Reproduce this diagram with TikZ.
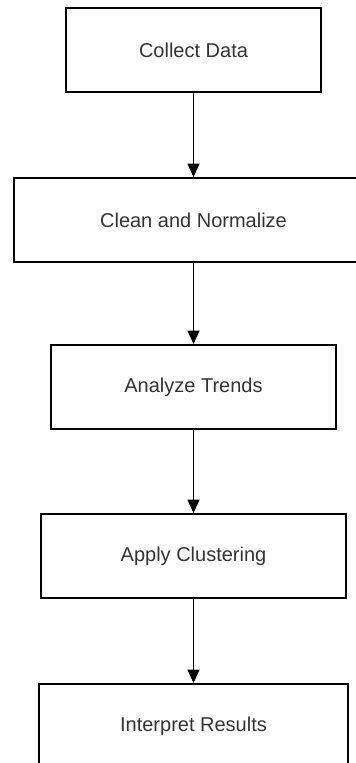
\documentclass[tikz,border=0pt]{standalone}
\usepackage{fontspec}
\setmainfont{Liberation Sans}
\usetikzlibrary{arrows.meta}

\begin{document}
\begin{tikzpicture}[x=0.75pt,y=-0.75pt,
  stepbox/.style={draw,line width=1.5pt,minimum height=63pt,inner sep=0pt,
    font=\fontsize{15}{18}\selectfont,text=black!80},
  flow/.style={-{Triangle[length=10pt,width=9pt]},line width=0.75pt}]
  \clip (0,0) rectangle (356,763);
  \node[stepbox,minimum width=191pt] (collect) at (193.5,50.5) {Collect Data};
  \node[stepbox,minimum width=269pt] (clean) at (193.5,220) {Clean and Normalize};
  \node[stepbox,minimum width=214pt] (analyze) at (193.5,387) {Analyze Trends};
  \node[stepbox,minimum width=229pt] (cluster) at (193.5,556) {Apply Clustering};
  \node[stepbox,minimum width=232pt] (interpret) at (193.5,726) {Interpret Results};
  \foreach \a/\b in {collect/clean,clean/analyze,analyze/cluster,cluster/interpret}
    \draw[flow] (\a) -- (\b);
\end{tikzpicture}
\end{document}
